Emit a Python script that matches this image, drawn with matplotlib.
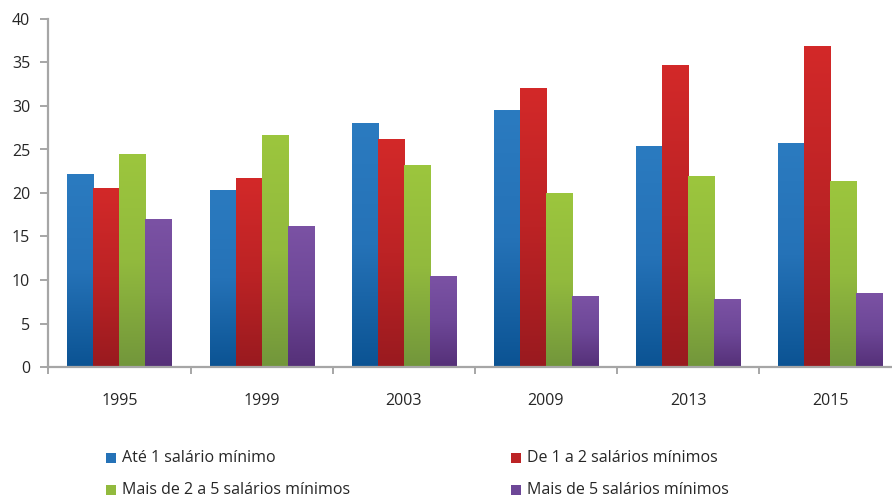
import numpy as np
import matplotlib
matplotlib.use("Agg")
import matplotlib.pyplot as plt
from matplotlib.colors import LinearSegmentedColormap
from matplotlib.patches import Rectangle

plt.rcParams['font.family'] = ['Open Sans', 'DejaVu Sans']

years = ["1995", "1999", "2003", "2009", "2013", "2015"]
series_names = [
    "Até 1 salário mínimo",
    "De 1 a 2 salários mínimos",
    "Mais de 2 a 5 salários mínimos",
    "Mais de 5 salários mínimos",
]
ate_1 = [22.1, 20.25, 27.95, 29.45, 25.4, 25.65]
de_1_a_2 = [20.5, 21.7, 26.1, 32.0, 34.6, 36.8]
de_2_a_5 = [24.4, 26.6, 23.2, 20.0, 21.9, 21.3]
acima_5 = [17.0, 16.2, 10.35, 8.05, 7.8, 8.4]
series_values = [ate_1, de_1_a_2, de_2_a_5, acima_5]

# gradient stops per series: bottom, middle, top
gradients = [
    ["#0B5393", "#2572B7", "#2B7BC0"],
    ["#991A1F", "#BC2325", "#D32929"],
    ["#72963B", "#92BA3E", "#9CC63D"],
    ["#553078", "#6D4797", "#7B52A4"],
]
cmaps = [LinearSegmentedColormap.from_list(f"g{i}", list(zip([0.0, 0.5, 1.0], g)))
         for i, g in enumerate(gradients)]

W, H = 892, 499
fig = plt.figure(figsize=(W / 100, H / 100), dpi=100)
ax = fig.add_axes([48.3 / W, 132 / H, (901.5 - 48.3) / W, 348 / H])

n_cat = len(years)
bar_w = 0.183
offsets = (np.arange(4) - 1.5) * bar_w
grad = np.linspace(0, 1, 256).reshape(-1, 1)

for s, vals in enumerate(series_values):
    for i, v in enumerate(vals):
        x0 = i + 0.5 + offsets[s] - bar_w / 2
        ax.imshow(grad, cmap=cmaps[s], origin="lower", aspect="auto",
                  extent=[x0, x0 + bar_w, 0, v], interpolation="bilinear",
                  zorder=2)

ax.set_xlim(0, n_cat)
ax.set_ylim(0, 40)

axis_col = "#A6A6A6"
for side in ["top", "right"]:
    ax.spines[side].set_visible(False)
for side in ["left", "bottom"]:
    ax.spines[side].set_color(axis_col)
    ax.spines[side].set_linewidth(1.6)

ax.set_yticks(np.arange(0, 41, 5))
ax.tick_params(axis="y", length=6, width=1.4, color=axis_col, pad=7,
               labelsize=11.5, labelcolor="#262626")
ax.set_xticks(np.arange(n_cat) + 0.5)
ax.set_xticklabels(years)
ax.set_xticks(np.arange(n_cat + 1), minor=True)
ax.tick_params(axis="x", which="major", length=0, pad=19,
               labelsize=11.5, labelcolor="#262626")
ax.tick_params(axis="x", which="minor", length=5, width=1.4, color=axis_col)

# legend: two rows, two columns
leg_pos = [(106, 458), (511, 458), (106, 490), (511, 490)]
sq = 10
for s, (px, py) in enumerate(leg_pos):
    fig.add_artist(Rectangle((px / W, (H - py - sq / 2) / H), sq / W, sq / H,
                             transform=fig.transFigure,
                             facecolor=gradients[s][1], edgecolor="none"))
    fig.text((px + sq + 6) / W, (H - py) / H, series_names[s],
             fontsize=11.5, color="#262626", va="center", ha="left")

fig.savefig("out.png", dpi=100)
